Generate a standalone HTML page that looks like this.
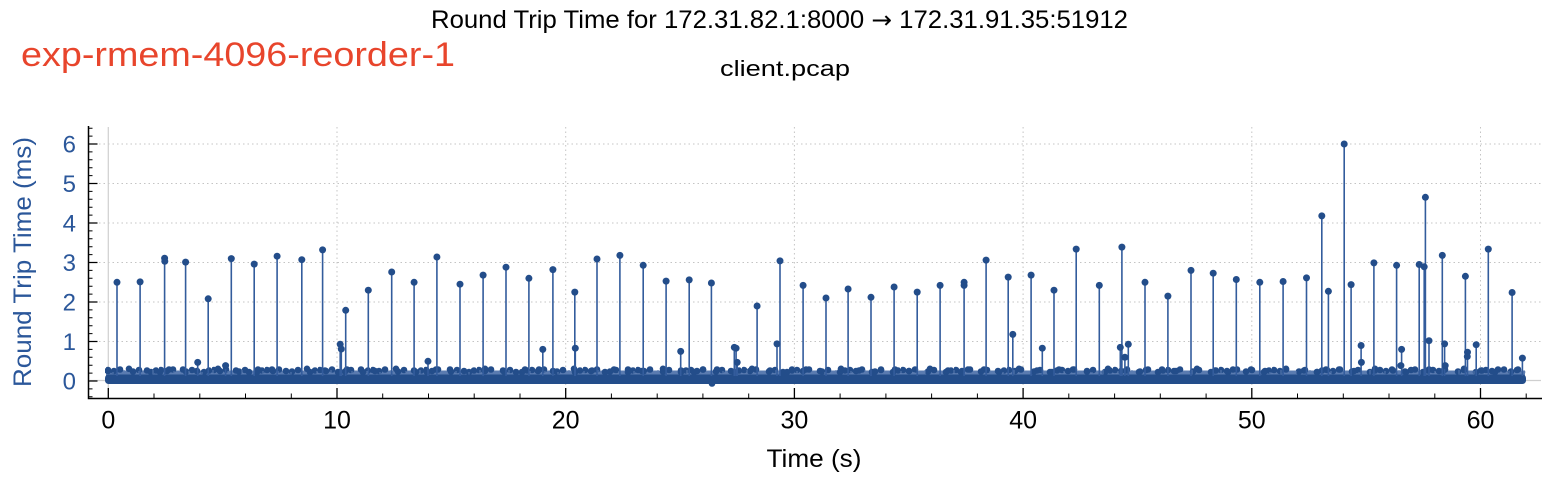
<!DOCTYPE html>
<html><head><meta charset="utf-8">
<style>
html,body{margin:0;padding:0;background:#fff;}
svg{display:block;}
text{font-family:"Liberation Sans",sans-serif;}
</style></head>
<body>
<svg width="1568" height="480" viewBox="0 0 1568 480" xmlns="http://www.w3.org/2000/svg">
<defs>
<pattern id="pa" patternUnits="userSpaceOnUse" x="0" y="0" width="53" height="480">
 <g fill="#234d8a">
  <circle cx="2" cy="370" r="3.3"/><circle cx="8" cy="371" r="3.3"/><circle cx="14" cy="369.5" r="3.3"/>
  <circle cx="27" cy="371.5" r="3.3"/><circle cx="33" cy="370" r="3.3"/>
  <circle cx="45" cy="372" r="3.3"/><circle cx="50" cy="370.5" r="3.3"/>
 </g>
</pattern>
<pattern id="pb" patternUnits="userSpaceOnUse" x="0" y="0" width="89" height="480">
 <g fill="#234d8a">
  <circle cx="5" cy="369.5" r="3.3"/><circle cx="19" cy="371" r="3.3"/><circle cx="40" cy="368.8" r="3.3"/>
  <circle cx="58" cy="370.5" r="3.3"/><circle cx="71" cy="372" r="3.3"/><circle cx="80" cy="369.5" r="3.3"/>
 </g>
 <path d="M11 371V376M24 372V376M35 370V376M50 371V376M64 370V376M85 371V376" stroke="#5a7bb0" stroke-width="1"/>
</pattern>
</defs>

<!-- titles -->
<text x="431" y="28" font-size="25" fill="#000" textLength="697" lengthAdjust="spacingAndGlyphs">Round Trip Time for 172.31.82.1:8000 <tspan font-family="DejaVu Sans, sans-serif" font-size="24">→</tspan> 172.31.91.35:51912</text>
<text x="720" y="76" font-size="22" fill="#000" textLength="130" lengthAdjust="spacingAndGlyphs">client.pcap</text>
<text x="21" y="66" font-size="34" fill="#e8452c" textLength="434" lengthAdjust="spacingAndGlyphs">exp-rmem-4096-reorder-1</text>

<!-- grid -->
<g stroke="#c4c4c4" stroke-width="1" stroke-dasharray="1.5 3" fill="none">
 <path d="M337 127V398M565.7 127V398M794.4 127V398M1023.1 127V398M1251.8 127V398M1480.5 127V398"/>
 <path d="M90 341.5H1541M90 302H1541M90 262.5H1541M90 223H1541M90 183.5H1541M90 144H1541"/>
</g>
<path d="M108.3 127V398M90 380.5H1541" stroke="#cfcfcf" stroke-width="1.2" fill="none"/>

<!-- axes -->
<path d="M88.5 126V398.5H1542" stroke="#000" stroke-width="1.5" fill="none"/>
<!-- y ticks -->
<path stroke="#000" stroke-width="1" fill="none" d="M88.5 396.8h4M88.5 388.9h4M88.5 373.1h4M88.5 365.2h4M88.5 357.3h4M88.5 349.4h4M88.5 333.6h4M88.5 325.7h4M88.5 317.8h4M88.5 309.9h4M88.5 294.1h4M88.5 286.2h4M88.5 278.3h4M88.5 270.4h4M88.5 254.6h4M88.5 246.7h4M88.5 238.8h4M88.5 230.9h4M88.5 215.1h4M88.5 207.2h4M88.5 199.3h4M88.5 191.4h4M88.5 175.6h4M88.5 167.7h4M88.5 159.8h4M88.5 151.9h4M88.5 136.1h4M88.5 128.2h4"/>
<path stroke="#000" stroke-width="1.2" fill="none" d="M88.5 381h9M88.5 341.5h9M88.5 302h9M88.5 262.5h9M88.5 223h9M88.5 183.5h9M88.5 144h9"/>
<!-- x ticks -->
<path stroke="#000" stroke-width="1" fill="none" d="M154 398v-4.5M199.8 398v-4.5M245.5 398v-4.5M291.3 398v-4.5M382.7 398v-4.5M428.5 398v-4.5M474.2 398v-4.5M520 398v-4.5M611.4 398v-4.5M657.2 398v-4.5M702.9 398v-4.5M748.7 398v-4.5M840.1 398v-4.5M885.9 398v-4.5M931.6 398v-4.5M977.4 398v-4.5M1068.8 398v-4.5M1114.6 398v-4.5M1160.3 398v-4.5M1206.1 398v-4.5M1297.5 398v-4.5M1343.3 398v-4.5M1389 398v-4.5M1434.8 398v-4.5M1526.2 398v-4.5"/>
<path stroke="#000" stroke-width="1.3" fill="none" d="M108.3 398v-10M337 398v-10M565.7 398v-10M794.4 398v-10M1023.1 398v-10M1251.8 398v-10M1480.5 398v-10"/>

<!-- tick labels -->
<g font-size="24" fill="#2b579a" text-anchor="end">
 <text x="76" y="389.6">0</text><text x="76" y="350.1">1</text><text x="76" y="310.6">2</text>
 <text x="76" y="271.1">3</text><text x="76" y="231.6">4</text><text x="76" y="192.1">5</text><text x="76" y="152.6">6</text>
</g>
<g font-size="25" fill="#000" text-anchor="middle">
 <text x="108.3" y="428.5">0</text><text x="337" y="428.5">10</text><text x="565.7" y="428.5">20</text>
 <text x="794.4" y="428.5">30</text><text x="1023.1" y="428.5">40</text><text x="1251.8" y="428.5">50</text><text x="1480.5" y="428.5">60</text>
</g>
<text x="766.5" y="467" font-size="25" fill="#000" textLength="95" lengthAdjust="spacingAndGlyphs">Time (s)</text>
<text transform="translate(31,262) rotate(-90)" x="-125" y="0" font-size="25" fill="#2b579a" textLength="250" lengthAdjust="spacingAndGlyphs">Round Trip Time (ms)</text>

<!-- data band -->
<rect x="106" y="370.5" width="1419" height="6" fill="#5a7bb0"/>
<rect x="105" y="364" width="1421" height="14" fill="url(#pa)"/>
<rect x="105" y="364" width="1421" height="14" fill="url(#pb)"/>
<rect x="105" y="374.5" width="1421" height="9.5" rx="3.5" fill="#234d8a"/>
<circle cx="712" cy="383.5" r="3.3" fill="#234d8a"/>

<!-- spikes -->
<path stroke="#335c9c" stroke-width="1.6" fill="none" d="M117 376V282.3M140.1 376V281.9M164.6 376V258.2M185.6 376V262.1M197.7 376V362.4M208.2 376V298.8M225.6 376V365.6M231.3 376V258.6M254.2 376V264.1M277.1 376V256.2M301.8 376V259.7M322.6 376V249.9M340.2 376V344.3M341.3 376V349M345.7 376V310.3M368.3 376V290.2M391.7 376V272M414.1 376V282.3M428 376V361.3M436.9 376V257M460 376V284.2M483.1 376V275.1M506 376V267.2M528.9 376V278.3M542.8 376V349.4M552.9 376V269.6M574.8 376V292.1M575.3 376V348.2M597 376V259M619.9 376V255.4M643.2 376V265.3M666.1 376V281.1M680.7 376V351.4M689.2 376V279.9M711.4 376V283M734.3 376V347.4M736.1 376V348.2M737.2 376V362.4M757.1 376V306M777 376V343.9M780 376V260.9M803.1 376V285.4M826 376V298M848.1 376V289M871 376V297.3M894.1 376V287M917.2 376V292.1M940.1 376V285.4M964.1 376V282.3M986.1 376V260.1M1008.2 376V277.1M1012.8 376V334.4M1031.1 376V275.1M1042.3 376V348.2M1054 376V290.2M1076.2 376V249.1M1099.3 376V285.4M1120.3 376V347.4M1121.9 376V247.1M1124.9 376V357.3M1128.3 376V344.3M1145 376V282.3M1167.9 376V296.1M1191 376V270.4M1213.2 376V273.2M1236.3 376V279.5M1259.8 376V282.3M1283.1 376V281.5M1306.5 376V277.9M1321.8 376V215.9M1328.4 376V291.3M1344.2 376V144M1351.1 376V284.6M1361.1 376V345.5M1373.9 376V262.9M1396.6 376V265.3M1401.6 376V349.4M1419.2 376V264.5M1424.2 376V266.8M1425.4 376V197.3M1429 376V340.7M1442.3 376V255.4M1444.6 376V343.9M1465.4 376V276.3M1467.5 376V352.2M1476.2 376V344.7M1488.3 376V249.1M1512.1 376V292.5M1522.4 376V358.1"/>
<g fill="#234d8a">
<circle cx="117" cy="282.3" r="3.5"/><circle cx="140.1" cy="281.9" r="3.5"/><circle cx="164.6" cy="258.2" r="3.5"/><circle cx="164.8" cy="261.3" r="3.5"/>
<circle cx="185.6" cy="262.1" r="3.5"/><circle cx="197.7" cy="362.4" r="3.5"/><circle cx="208.2" cy="298.8" r="3.5"/><circle cx="225.6" cy="365.6" r="3.5"/>
<circle cx="231.3" cy="258.6" r="3.5"/><circle cx="254.2" cy="264.1" r="3.5"/><circle cx="277.1" cy="256.2" r="3.5"/><circle cx="301.8" cy="259.7" r="3.5"/>
<circle cx="322.6" cy="249.9" r="3.5"/><circle cx="340.2" cy="344.3" r="3.5"/><circle cx="341.3" cy="349" r="3.5"/><circle cx="345.7" cy="310.3" r="3.5"/>
<circle cx="368.3" cy="290.2" r="3.5"/><circle cx="391.7" cy="272" r="3.5"/><circle cx="414.1" cy="282.3" r="3.5"/><circle cx="428" cy="361.3" r="3.5"/>
<circle cx="436.9" cy="257" r="3.5"/><circle cx="460" cy="284.2" r="3.5"/><circle cx="483.1" cy="275.1" r="3.5"/><circle cx="506" cy="267.2" r="3.5"/>
<circle cx="528.9" cy="278.3" r="3.5"/><circle cx="542.8" cy="349.4" r="3.5"/><circle cx="552.9" cy="269.6" r="3.5"/><circle cx="574.8" cy="292.1" r="3.5"/>
<circle cx="575.3" cy="348.2" r="3.5"/><circle cx="597" cy="259" r="3.5"/><circle cx="619.9" cy="255.4" r="3.5"/><circle cx="643.2" cy="265.3" r="3.5"/>
<circle cx="666.1" cy="281.1" r="3.5"/><circle cx="680.7" cy="351.4" r="3.5"/><circle cx="689.2" cy="279.9" r="3.5"/><circle cx="711.4" cy="283" r="3.5"/>
<circle cx="734.3" cy="347.4" r="3.5"/><circle cx="736.1" cy="348.2" r="3.5"/><circle cx="737.2" cy="362.4" r="3.5"/><circle cx="757.1" cy="306" r="3.5"/>
<circle cx="777" cy="343.9" r="3.5"/><circle cx="780" cy="260.9" r="3.5"/><circle cx="803.1" cy="285.4" r="3.5"/><circle cx="826" cy="298" r="3.5"/>
<circle cx="848.1" cy="289" r="3.5"/><circle cx="871" cy="297.3" r="3.5"/><circle cx="894.1" cy="287" r="3.5"/><circle cx="917.2" cy="292.1" r="3.5"/>
<circle cx="940.1" cy="285.4" r="3.5"/><circle cx="964.1" cy="282.3" r="3.5"/><circle cx="964.1" cy="285.4" r="3.5"/><circle cx="986.1" cy="260.1" r="3.5"/>
<circle cx="1008.2" cy="277.1" r="3.5"/><circle cx="1012.8" cy="334.4" r="3.5"/><circle cx="1031.1" cy="275.1" r="3.5"/><circle cx="1042.3" cy="348.2" r="3.5"/>
<circle cx="1054" cy="290.2" r="3.5"/><circle cx="1076.2" cy="249.1" r="3.5"/><circle cx="1099.3" cy="285.4" r="3.5"/><circle cx="1120.3" cy="347.4" r="3.5"/>
<circle cx="1121.9" cy="247.1" r="3.5"/><circle cx="1124.9" cy="357.3" r="3.5"/><circle cx="1128.3" cy="344.3" r="3.5"/><circle cx="1145" cy="282.3" r="3.5"/>
<circle cx="1167.9" cy="296.1" r="3.5"/><circle cx="1191" cy="270.4" r="3.5"/><circle cx="1213.2" cy="273.2" r="3.5"/><circle cx="1236.3" cy="279.5" r="3.5"/>
<circle cx="1259.8" cy="282.3" r="3.5"/><circle cx="1283.1" cy="281.5" r="3.5"/><circle cx="1306.5" cy="277.9" r="3.5"/><circle cx="1321.8" cy="215.9" r="3.5"/>
<circle cx="1328.4" cy="291.3" r="3.5"/><circle cx="1344.2" cy="144" r="3.5"/><circle cx="1351.1" cy="284.6" r="3.5"/><circle cx="1361.1" cy="345.5" r="3.5"/>
<circle cx="1361.4" cy="362.4" r="3.5"/><circle cx="1373.9" cy="262.9" r="3.5"/><circle cx="1396.6" cy="265.3" r="3.5"/><circle cx="1401.6" cy="349.4" r="3.5"/>
<circle cx="1400.9" cy="365.6" r="3.5"/><circle cx="1419.2" cy="264.5" r="3.5"/><circle cx="1424.2" cy="266.8" r="3.5"/><circle cx="1425.4" cy="197.3" r="3.5"/>
<circle cx="1429" cy="340.7" r="3.5"/><circle cx="1442.3" cy="255.4" r="3.5"/><circle cx="1444.6" cy="343.9" r="3.5"/><circle cx="1445.2" cy="365.6" r="3.5"/>
<circle cx="1465.4" cy="276.3" r="3.5"/><circle cx="1467.5" cy="352.2" r="3.5"/><circle cx="1467.3" cy="356.5" r="3.5"/><circle cx="1476.2" cy="344.7" r="3.5"/>
<circle cx="1488.3" cy="249.1" r="3.5"/><circle cx="1512.1" cy="292.5" r="3.5"/><circle cx="1522.4" cy="358.1" r="3.5"/>
</g>
</svg>
</body></html>
